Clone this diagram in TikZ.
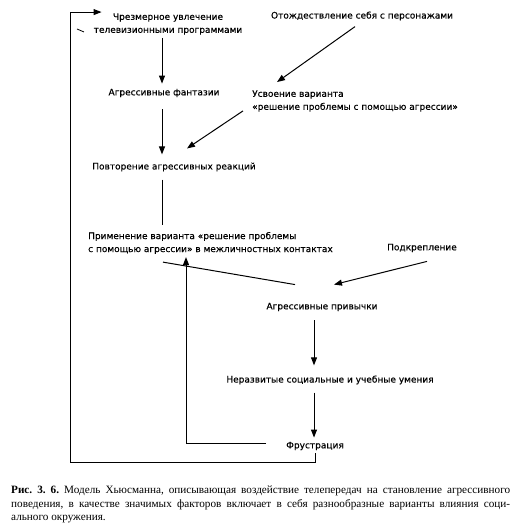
\documentclass[tikz,border=0pt]{standalone}
\usepackage{fontspec}
\setmainfont{Liberation Serif}
\newfontface\esquemafont{DejaVu Sans}[FakeBold=0.3]
\usetikzlibrary{arrows.meta}

\begin{document}
\begin{tikzpicture}[x=1pt,y=1pt,
    texto/.style={font=\esquemafont\fontsize{9}{13}\selectfont, inner sep=3pt, align=center},
    textoizq/.style={texto, align=left, anchor=west},
    flecha/.style={line width=1pt, -{Triangle[length=8pt,width=6pt]}},
    linea/.style={line width=1pt}]
      \useasboundingbox (0,0) rectangle (519,529);
      % bloques de texto
      \node[texto] (tv) at (168,505) {Чрезмерное увлечение\\телевизионными программами};
      \node[texto] (ident) at (362,513) {Отождествление себя с персонажами};
      \node[texto] (fant) at (164,436) {Агрессивные фантазии};
      \node[textoizq] (usv) at (249,428) {Усвоение варианта\\«решение проблемы с помощью агрессии»};
      \node[texto] (povt) at (174,362) {Повторение агрессивных реакций};
      \node[textoizq] (prim) at (85,286) {Применение варианта «решение проблемы\\с помощью агрессии» в межличностных контактах};
      \node[texto] (podkr) at (422,281) {Подкрепление};
      \node[texto] (priv) at (322,222) {Агрессивные привычки};
      \node[texto] (nerazv) at (330,149) {Неразвитые социальные и учебные умения};
      \node[texto] (frus) at (315,83) {Фрустрация};
      % flechas
      \draw[flecha] ([xshift=-6pt]tv.south) -- ([xshift=-2pt,yshift=2pt]fant.north);
      \draw[flecha] ([xshift=-2pt,yshift=-9pt]fant.south) -- ([xshift=-12pt,yshift=5pt]povt.north);
      \draw[flecha] ([xshift=-7pt,yshift=-3pt]ident.south) -- ([xshift=28pt,yshift=5pt]usv.north west);
      \draw[flecha] ([xshift=-6pt,yshift=4pt]usv.south west) -- ([xshift=13pt,yshift=11pt]povt.north);
      \draw[linea] ([xshift=-12pt,yshift=-5pt]povt.south) -- ([xshift=77pt,yshift=4pt]prim.north west);
      \draw[linea] ([xshift=78pt,yshift=-5pt]prim.south west) -- ([xshift=-27pt,yshift=15pt]priv.north);
      \draw[flecha] ([xshift=5pt,yshift=-6pt]podkr.south) -- ([xshift=12pt,yshift=15pt]priv.north);
      \draw[flecha] ([xshift=-8pt,yshift=-6pt]priv.south) -- ([xshift=-16pt,yshift=7pt]nerazv.north);
      \draw[flecha] ([xshift=-16pt,yshift=-5pt]nerazv.south) -- ([xshift=-1pt,yshift=1pt]frus.north);
      % lazos de retorno
      \draw[flecha] ([xshift=-17pt,yshift=2pt]frus.west) -| ([xshift=101pt]prim.south west);
      \draw[flecha] (frus.south) -- ++(0,-9) -- ++(-245,0) |- ([xshift=11pt,yshift=-2pt]tv.north west);
      \draw[line width=0.8pt] (77,500) -- (84,497);
      % pie de figura
      \node[anchor=north west, text width=499pt, align=justify, inner sep=0pt,
            font=\fontsize{11.2}{13.3}\selectfont\frenchspacing] (pie) at (11,43)
      {\textbf{Рис. 3. 6.} Модель Хьюсманна, описывающая воздействие телепередач на становление агрессивного\linebreak
       поведения, в качестве значимых факторов включает в себя разнообразные варианты влияния соци-\linebreak
       ального окружения.};
\end{tikzpicture}
\end{document}
